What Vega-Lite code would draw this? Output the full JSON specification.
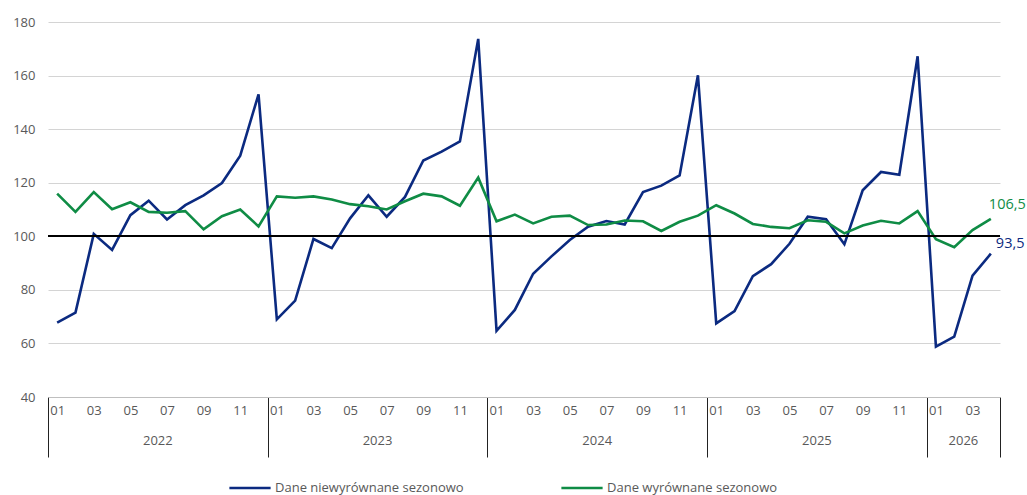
{
  "$schema": "https://vega.github.io/schema/vega-lite/v6.json",
  "width": 952,
  "height": 375,
  "autosize": {"type": "none"},
  "padding": {"left": 48, "top": 22, "right": 27, "bottom": 98},
  "config": {
    "font": "Open Sans",
    "locale": {"number": {"decimal": ",", "thousands": " ", "grouping": [3], "currency": ["", " zł"]}},
    "view": {"stroke": null},
    "axis": {"labelFont": "Open Sans", "labelColor": "#595959", "labelFontSize": 13}
  },
  "data": {"values": [
    {"m": "2022-01", "yr": "2022", "nsa": 67.8, "sa": 115.9},
    {"m": "2022-02", "yr": "2022", "nsa": 71.5, "sa": 109.1},
    {"m": "2022-03", "yr": "2022", "nsa": 100.9, "sa": 116.5},
    {"m": "2022-04", "yr": "2022", "nsa": 94.9, "sa": 110.1},
    {"m": "2022-05", "yr": "2022", "nsa": 107.9, "sa": 112.7},
    {"m": "2022-06", "yr": "2022", "nsa": 113.3, "sa": 109.1},
    {"m": "2022-07", "yr": "2022", "nsa": 106.3, "sa": 108.8},
    {"m": "2022-08", "yr": "2022", "nsa": 111.6, "sa": 109.4},
    {"m": "2022-09", "yr": "2022", "nsa": 115.3, "sa": 102.6},
    {"m": "2022-10", "yr": "2022", "nsa": 119.9, "sa": 107.5},
    {"m": "2022-11", "yr": "2022", "nsa": 130.1, "sa": 110.0},
    {"m": "2022-12", "yr": "2022", "nsa": 153.0, "sa": 103.7},
    {"m": "2023-01", "yr": "2023", "nsa": 69.0, "sa": 114.9},
    {"m": "2023-02", "yr": "2023", "nsa": 76.0, "sa": 114.4},
    {"m": "2023-03", "yr": "2023", "nsa": 99.0, "sa": 114.9},
    {"m": "2023-04", "yr": "2023", "nsa": 95.6, "sa": 113.7},
    {"m": "2023-05", "yr": "2023", "nsa": 106.7, "sa": 112.0},
    {"m": "2023-06", "yr": "2023", "nsa": 115.3, "sa": 111.2},
    {"m": "2023-07", "yr": "2023", "nsa": 107.3, "sa": 110.0},
    {"m": "2023-08", "yr": "2023", "nsa": 114.7, "sa": 113.1},
    {"m": "2023-09", "yr": "2023", "nsa": 128.3, "sa": 115.9},
    {"m": "2023-10", "yr": "2023", "nsa": 131.6, "sa": 114.9},
    {"m": "2023-11", "yr": "2023", "nsa": 135.4, "sa": 111.4},
    {"m": "2023-12", "yr": "2023", "nsa": 173.7, "sa": 121.9},
    {"m": "2024-01", "yr": "2024", "nsa": 64.7, "sa": 105.6},
    {"m": "2024-02", "yr": "2024", "nsa": 72.5, "sa": 108.1},
    {"m": "2024-03", "yr": "2024", "nsa": 86.0, "sa": 104.8},
    {"m": "2024-04", "yr": "2024", "nsa": 92.5, "sa": 107.3},
    {"m": "2024-05", "yr": "2024", "nsa": 98.6, "sa": 107.7},
    {"m": "2024-06", "yr": "2024", "nsa": 103.6, "sa": 104.2},
    {"m": "2024-07", "yr": "2024", "nsa": 105.7, "sa": 104.4},
    {"m": "2024-08", "yr": "2024", "nsa": 104.4, "sa": 105.9},
    {"m": "2024-09", "yr": "2024", "nsa": 116.5, "sa": 105.6},
    {"m": "2024-10", "yr": "2024", "nsa": 118.9, "sa": 102.0},
    {"m": "2024-11", "yr": "2024", "nsa": 122.7, "sa": 105.4},
    {"m": "2024-12", "yr": "2024", "nsa": 160.1, "sa": 107.7},
    {"m": "2025-01", "yr": "2025", "nsa": 67.5, "sa": 111.6},
    {"m": "2025-02", "yr": "2025", "nsa": 72.1, "sa": 108.5},
    {"m": "2025-03", "yr": "2025", "nsa": 85.1, "sa": 104.6},
    {"m": "2025-04", "yr": "2025", "nsa": 89.6, "sa": 103.5},
    {"m": "2025-05", "yr": "2025", "nsa": 97.2, "sa": 103.0},
    {"m": "2025-06", "yr": "2025", "nsa": 107.3, "sa": 106.0},
    {"m": "2025-07", "yr": "2025", "nsa": 106.4, "sa": 105.4},
    {"m": "2025-08", "yr": "2025", "nsa": 97.0, "sa": 101.1},
    {"m": "2025-09", "yr": "2025", "nsa": 117.2, "sa": 104.0},
    {"m": "2025-10", "yr": "2025", "nsa": 124.0, "sa": 105.8},
    {"m": "2025-11", "yr": "2025", "nsa": 123.0, "sa": 104.8},
    {"m": "2025-12", "yr": "2025", "nsa": 167.2, "sa": 109.4},
    {"m": "2026-01", "yr": "2026", "nsa": 58.8, "sa": 98.9},
    {"m": "2026-02", "yr": "2026", "nsa": 62.5, "sa": 95.9},
    {"m": "2026-03", "yr": "2026", "nsa": 85.3, "sa": 102.3},
    {"m": "2026-04", "yr": "2026", "nsa": 93.5, "sa": 106.5}
  ]},
  "transform": [{"fold": ["nsa", "sa"], "as": ["series", "value"]}],
  "encoding": {
    "x": {
      "field": "m", "type": "ordinal",
      "scale": {"type": "band", "paddingInner": 0, "paddingOuter": 0},
      "axis": {
        "title": null,
        "tickBand": "extent",
        "tickSize": 60,
        "tickColor": "#222222",
        "tickWidth": 1,
        "tickOpacity": {"condition": {"test": "!isValid(datum.value) || indexof(['2022-12','2023-12','2024-12','2025-12','2026-04'], datum.value) >= 0", "value": 1}, "value": 0},
        "labelPadding": -53,
        "labelAngle": 0,
        "labelExpr": "toNumber(substring(datum.value,5,7)) % 2 == 1 ? substring(datum.value,5,7) : ''",
        "domainColor": "#bfbfbf",
        "grid": false
      }
    },
    "y": {
      "field": "value", "type": "quantitative",
      "scale": {"domain": [40, 180], "nice": false, "zero": false},
      "axis": {"title": null, "values": [40, 60, 80, 100, 120, 140, 160, 180], "domain": false, "ticks": false, "labelPadding": 13, "grid": true, "gridColor": "#d4d4d4", "gridWidth": 1}
    }
  },
  "layer": [
    {
      "mark": {"type": "line", "strokeWidth": 2.6, "strokeJoin": "miter"},
      "encoding": {
        "x": {"field": "m", "type": "ordinal", "bandPosition": 0.5},
        "color": {
          "field": "series", "type": "nominal",
          "scale": {"domain": ["nsa", "sa"], "range": ["#0b2a80", "#0f8c45"]},
          "legend": {
            "title": null,
            "orient": "none",
            "direction": "horizontal",
            "legendX": 180,
            "legendY": 444,
            "padding": 0,
            "symbolType": "stroke",
            "symbolSize": 1700,
            "symbolStrokeWidth": 2.6,
            "labelFont": "Open Sans",
            "labelFontSize": 13,
            "labelColor": "#595959",
            "labelOffset": 3,
            "labelLimit": 400,
            "columnPadding": 92,
            "labelExpr": "datum.label == 'nsa' ? 'Dane niewyrównane sezonowo' : 'Dane wyrównane sezonowo'"
          }
        }
      }
    },
    {
      "mark": {"type": "rule", "color": "#000000", "strokeWidth": 1},
      "encoding": {"x": null, "y": {"datum": 100, "type": "quantitative"}}
    },
    {
      "transform": [{"filter": "datum.series == 'nsa' && (toNumber(substring(datum.m,5,7)) == 6 || datum.m == '2026-02')"}],
      "mark": {"type": "text", "fontSize": 13, "color": "#595959", "baseline": "middle", "dy": 44, "font": "Open Sans"},
      "encoding": {
        "x": {"field": "m", "type": "ordinal", "bandPosition": 1},
        "y": {"datum": 40, "type": "quantitative"},
        "text": {"field": "yr", "type": "nominal"}
      }
    },
    {
      "transform": [{"filter": "datum.m == '2026-04' && datum.series == 'sa'"}],
      "mark": {"type": "text", "fontSize": 14.5, "align": "left", "baseline": "alphabetic", "dx": -2, "dy": -10, "font": "Open Sans"},
      "encoding": {
        "x": {"field": "m", "type": "ordinal", "bandPosition": 0.5},
        "text": {"field": "value", "type": "quantitative", "format": ".1f"},
        "color": {"field": "series", "type": "nominal"}
      }
    },
    {
      "transform": [{"filter": "datum.m == '2026-04' && datum.series == 'nsa'"}],
      "mark": {"type": "text", "fontSize": 14.5, "align": "left", "baseline": "alphabetic", "dx": 5, "dy": -6, "font": "Open Sans"},
      "encoding": {
        "x": {"field": "m", "type": "ordinal", "bandPosition": 0.5},
        "text": {"field": "value", "type": "quantitative", "format": ".1f"},
        "color": {"field": "series", "type": "nominal"}
      }
    }
  ]
}
